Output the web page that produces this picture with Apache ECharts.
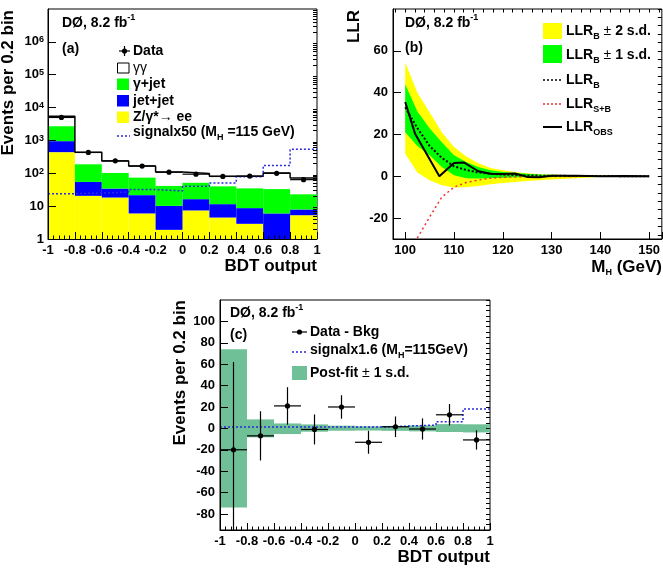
<!DOCTYPE html>
<html>
<head>
<meta charset="utf-8">
<script src="https://cdn.jsdelivr.net/npm/echarts@6/dist/echarts.min.js"></script>
<style>
  html, body { margin: 0; padding: 0; background: #fff; }
  #chart { width: 663px; height: 579px; }
</style>
</head>
<body>
<div id="chart"></div>
<script>
// ---- shared: BDT output bins ----
const bdtEdges = [-1, -0.8, -0.6, -0.4, -0.2, 0, 0.2, 0.4, 0.6, 0.8, 1];

// ---- (a) events per bin, each background on its own (stacked in code) ----
const zee      = [440, 20.6, 18.3, 6.0, 1.9, 7.4, 4.5, 2.9, 0.8, 5.3];
const jetJet   = [510, 34, 16, 15.6, 8.3, 8.9, 7.0, 5.8, 5.2, 2.6];
const gammaJet = [1750, 133, 68, 52, 31, 35, 28.5, 26, 27, 15];
const diPhoton = [2750, 252, 133, 92, 69, 47, 41, 46, 69, 49];
const dataA    = [5000, 430, 240, 166, 108, 94, 80, 82, 100, 64];
const signalX50 = [24, 25, 27, 32, 29, 40, 51, 78, 174, 535];
const logTicks = [1, 10, 100, 1e3, 1e4, 1e5, 1e6];

// ---- (b) LLR vs Higgs mass ----
const massGrid = [100, 102.5, 105, 107.5, 110, 112.5, 115, 117.5, 120, 122.5, 125, 127.5, 130, 135, 140, 145, 150];
const llrB     = [33, 23, 14.5, 8.8, 4.8, 3.0, 1.8, 1.2, 0.8, 0.6, 0.4, 0.3, 0.25, 0.15, 0.1, 0.06, 0.04];
const llrB1Lo  = [21, 14.5, 10, 4.4, 0.5, -0.9, -1.1, -0.9, -0.7, -0.5, -0.4, -0.3, -0.25, -0.15, -0.1, -0.05, -0.03];
const llrB1Hi  = [44, 31, 23, 16.3, 10, 6.8, 4.4, 2.9, 2.1, 1.6, 1.2, 0.9, 0.7, 0.4, 0.25, 0.15, 0.1];
const llrB2Lo  = [10.8, 1.8, -1.9, -4.3, -5.4, -5.2, -4.6, -3.8, -3.2, -2.7, -2.3, -1.9, -1.5, -0.9, -0.4, -0.2, -0.1];
const llrB2Hi  = [54.4, 40, 30.6, 21.1, 14, 9.5, 6.2, 4.0, 2.9, 2.0, 1.4, 1.0, 0.7, 0.45, 0.3, 0.2, 0.1];
const llrSB    = [-40, -29.5, -19.5, -10, -5.2, -3, -1.8, -0.9, -0.5, -0.3, -0.2, -0.1, -0.1, -0.05, -0.03, -0.02, -0.01];
const obsMass  = [100, 102, 107, 110, 112, 115, 117.5, 120, 122.5, 125, 127.5, 130, 135, 140, 145, 150];
const llrObs   = [35.5, 20.5, 0, 6.4, 6.6, 2.4, 1.2, 1.1, 1.3, -0.3, -0.5, 0.2, 0.3, 0, 0.1, 0];
const massTicks = [100, 110, 120, 130, 140, 150];
const llrTicks  = [-20, 0, 20, 40, 60];

// ---- (c) data minus background ----
const dataMinusBkg = [-20, -7, 21, -1, 20, -13, 1.5, -0.6, 12.7, -10.8];
const dataErr      = [82, 23, 17.5, 14, 11, 10.7, 9.6, 9.9, 10, 9];
const postFitLo    = [-74, -8.4, -5.3, -3.1, -2.2, -2.0, -2.3, -2.8, -3.4, -3.8];
const postFitHi    = [74, 8.4, 4.6, 3.7, 2.5, 2.0, 2.3, 2.8, 4.0, 3.8];
const signalX16    = [1.2, 1.2, 1.2, 1.2, 1.2, 1.2, 2.2, 3.1, 6.2, 18.0];
const evtTicks     = [-80, -60, -40, -20, 0, 20, 40, 60, 80, 100];

const FONT = '"Liberation Sans", Arial, Helvetica, sans-serif';
const YELLOW = '#ffff00', GREEN = '#00ff00', BLUE = '#0000ff', TEAL = '#6fbf97';
const SIG = '#2a2ae0', RED = '#ee3030';

const chart = echarts.init(document.getElementById('chart'));

// helpers
const sumArr = (a, b) => a.map((v, i) => v + b[i]);
const bins = (lo, hi) => bdtEdges.slice(0, -1).map((e, i) => [e, bdtEdges[i + 1], lo[i], hi[i]]);
const stepData = vals => bdtEdges.map((e, i) => [e, vals[Math.min(i, vals.length - 1)]]);
const steps = (from, to, d) => { const r = []; for (let v = from; v <= to + 1e-9; v += d) r.push(+v.toFixed(4)); return r; };

const lvl1 = zee;
const lvl2 = sumArr(lvl1, jetJet);
const lvl3 = sumArr(lvl2, gammaJet);
const total = sumArr(lvl3, diPhoton);
const ones = zee.map(() => 1);

function rectRender(color) {
  return (params, api) => {
    const lo = api.value(2), hi = api.value(3);
    if (!(hi > lo)) return {type: 'group', children: []};
    const a = api.coord([api.value(0), hi]);
    const b = api.coord([api.value(1), lo]);
    return {type: 'rect', shape: {x: a[0], y: a[1], width: b[0] - a[0], height: b[1] - a[1]}, style: {fill: color}};
  };
}
function pointRender(params, api) {
  const x0 = api.value(0), x1 = api.value(1), y = api.value(2), e = api.value(3);
  const xc = (x0 + x1) / 2;
  const l = api.coord([x0, y]), r = api.coord([x1, y]), c = api.coord([xc, y]);
  const kids = [{type: 'line', shape: {x1: l[0], y1: l[1], x2: r[0], y2: r[1]}, style: {stroke: '#000', lineWidth: 1.2}}];
  if (e > 0) {
    const t = api.coord([xc, y + e]), b = api.coord([xc, y - e]);
    kids.push({type: 'line', shape: {x1: t[0], y1: t[1], x2: b[0], y2: b[1]}, style: {stroke: '#000', lineWidth: 1.2}});
  }
  kids.push({type: 'circle', shape: {cx: c[0], cy: c[1], r: 2.6}, style: {fill: '#000'}});
  return {type: 'group', children: kids};
}
// band between lo and hi over the mass grid, drawn once as a polygon
function bandRender(lo, hi, color) {
  return (params, api) => {
    if (params.dataIndex !== 0) return {type: 'group', children: []};
    const top = massGrid.map((m, i) => api.coord([m, hi[i]]));
    const bot = massGrid.map((m, i) => api.coord([m, lo[i]])).reverse();
    return {type: 'polygon', shape: {points: top.concat(bot)}, style: {fill: color}};
  };
}

const labelStyle = {color: '#000', fontFamily: FONT, fontWeight: 'bold', fontSize: 13};
const line = {show: true, onZero: false, lineStyle: {color: '#000', width: 1}};
function mainAxis(extra, tickLen) {
  return Object.assign({
    type: 'value', z: 5, axisLine: line, splitLine: {show: false},
    axisTick: {show: true, inside: true, length: tickLen, lineStyle: {color: '#000'}},
    axisLabel: Object.assign({margin: 5}, labelStyle)
  }, extra);
}
function minorAxis(extra, vals, len) {
  return Object.assign({
    type: 'value', z: 5, axisLine: {show: false, onZero: false}, splitLine: {show: false},
    axisLabel: {show: false},
    axisTick: {show: true, inside: true, length: len, customValues: vals, lineStyle: {color: '#000'}}
  }, extra);
}
const supRich = {
  sup: {fontSize: 9, fontWeight: 'bold', fontFamily: FONT, verticalAlign: 'top', lineHeight: 9}
};

const logMinor = [];
logTicks.forEach(d => { for (let k = 2; k <= 9; k++) logMinor.push(d * k); });

// graphic text helpers
const rich = {
  sup: {fontSize: 9, fontWeight: 'bold', fontFamily: FONT, verticalAlign: 'top', lineHeight: 9},
  sub: {fontSize: 9, fontWeight: 'bold', fontFamily: FONT, verticalAlign: 'bottom', lineHeight: 9},
  n: {fontSize: 14, fontWeight: 'normal', fontFamily: FONT, lineHeight: 20}
};
function txt(x, y, text, size, opt) {
  return {
    type: 'text', x: x, y: y, z: 20,
    style: Object.assign({
      text: text, fill: '#000', font: 'bold ' + size + 'px ' + FONT, lineHeight: 20,
      align: 'left', textAlign: 'left', verticalAlign: 'middle', textVerticalAlign: 'middle', rich: rich
    }, opt || {})
  };
}
function vtitle(x, y, text) {
  return {type: 'text', x: x, y: y, rotation: Math.PI / 2, z: 20,
    style: {text: text, fill: '#000', font: 'bold 17px ' + FONT, align: 'right', textAlign: 'right',
      verticalAlign: 'middle', textVerticalAlign: 'middle'}};
}
const box = (x, y, w, h, fill, stroke) => ({type: 'rect', z: 20, shape: {x, y, width: w, height: h}, style: {fill, stroke: stroke || null, lineWidth: 1}});
const seg = (x1, y1, x2, y2, stroke, dash, w) => ({type: 'line', z: 20, shape: {x1, y1, x2, y2}, style: {stroke, lineWidth: w || 1.5, lineDash: dash || null}});
const dot = (cx, cy) => ({type: 'circle', z: 20, shape: {cx, cy, r: 2.6}, style: {fill: '#000'}});

const graphic = [
  // (a)
  txt(62, 23, 'DØ, 8.2 fb{sup|-1}', 14), txt(62, 49, '(a)', 14),
  seg(119, 51, 130, 51, '#000', null, 1.2), seg(124.5, 46, 124.5, 56, '#000', null, 1.2), dot(124.5, 51),
  txt(133, 51, 'Data', 14),
  box(117.5, 63, 11.5, 10, '#fff', '#000'), txt(133, 68, '{n|γγ}', 14),
  box(117, 78.5, 12, 11.5, GREEN), txt(133, 84, 'γ+jet', 14),
  box(117, 95, 12, 11.5, BLUE), txt(133, 101, 'jet+jet', 14),
  box(117, 111.5, 12, 11.5, YELLOW), txt(133, 117, 'Z/γ*→ ee', 14),
  seg(117, 136, 130, 136, SIG, [2, 2]), txt(133, 132, 'signalx50 (M{sub|H} =115 GeV)', 14),
  vtitle(8, 10, 'Events per 0.2 bin'),
  txt(317, 266, 'BDT output', 17, {align: 'right', textAlign: 'right'}),
  // (b)
  txt(405, 23, 'DØ, 8.2 fb{sup|-1}', 14), txt(405, 48, '(b)', 14),
  box(543, 23, 19, 16, YELLOW), txt(566, 31, 'LLR{sub|B} {n|±} 2 s.d.', 14),
  box(543, 45, 19, 18, GREEN), txt(566, 55, 'LLR{sub|B} {n|±} 1 s.d.', 14),
  seg(543, 80, 562, 80, '#000', [2, 2]), txt(566, 80, 'LLR{sub|B}', 14),
  seg(543, 104, 562, 104, RED, [2, 2]), txt(566, 104, 'LLR{sub|S+B}', 14),
  seg(543, 127, 562, 127, '#000', null, 2), txt(566, 127, 'LLR{sub|OBS}', 14),
  vtitle(354, 10, 'LLR'),
  txt(662, 267, 'M{sub|H} (GeV)', 17, {align: 'right', textAlign: 'right'}),
  // (c)
  txt(230, 313, 'DØ, 8.2 fb{sup|-1}', 14), txt(230, 335, '(c)', 14),
  seg(292, 332, 307, 332, '#000', null, 1.2), dot(299.5, 332), txt(310, 332, 'Data - Bkg', 14),
  seg(292, 352, 307, 352, SIG, [2, 2]), txt(310, 350, 'signalx1.6 (M{sub|H}=115GeV)', 14),
  box(292, 366, 15, 14, TEAL), txt(310, 373, 'Post-fit {n|±} 1 s.d.', 14),
  vtitle(180, 300, 'Events per 0.2 bin'),
  txt(490, 557, 'BDT output', 17, {align: 'right', textAlign: 'right'})
];

const gridBox = {show: true, borderColor: '#000', borderWidth: 1, backgroundColor: 'transparent'};

chart.setOption({
  animation: false,
  backgroundColor: '#fff',
  textStyle: {fontFamily: FONT},
  grid: [
    Object.assign({left: 48, top: 9, width: 269, height: 230}, gridBox),
    Object.assign({left: 393, top: 9, width: 269, height: 230}, gridBox),
    Object.assign({left: 220, top: 300, width: 270, height: 230}, gridBox)
  ],
  xAxis: [
    mainAxis({gridIndex: 0, min: -1, max: 1, interval: 0.2,
      minorTick: {show: true, splitNumber: 5, length: 3.5, lineStyle: {color: '#000'}}}, 7),
    mainAxis({gridIndex: 1, min: 97.5, max: 152.6,
      axisLabel: Object.assign({margin: 5, customValues: massTicks}, labelStyle)}, 7),
    minorAxis({gridIndex: 1, min: 97.5, max: 152.6}, steps(98, 152, 2), 3.5),
    mainAxis({gridIndex: 2, min: -1, max: 1, interval: 0.2,
      minorTick: {show: true, splitNumber: 5, length: 3.5, lineStyle: {color: '#000'}}}, 7)
  ],
  yAxis: [
    mainAxis({gridIndex: 0, type: 'log', logBase: 10, min: 1, max: 1e7,
      axisLabel: Object.assign({margin: 4, customValues: logTicks, rich: supRich,
        formatter: v => v < 100 ? String(Math.round(v)) : '10{sup|' + Math.round(Math.log10(v)) + '}'}, labelStyle)}, 8),
    minorAxis({gridIndex: 0, type: 'log', logBase: 10, min: 1, max: 1e7}, logMinor, 4),
    mainAxis({gridIndex: 1, min: -30, max: 80,
      axisLabel: Object.assign({margin: 5, customValues: llrTicks}, labelStyle)}, 8),
    minorAxis({gridIndex: 1, min: -30, max: 80}, steps(-28, 80, 4), 4),
    mainAxis({gridIndex: 2, min: -95, max: 120,
      axisLabel: Object.assign({margin: 5, customValues: evtTicks}, labelStyle)}, 8),
    minorAxis({gridIndex: 2, min: -95, max: 120}, steps(-95, 120, 5), 4)
  ].map(a => {
    // main axes: ticks at the label values only
    if (a.axisLabel && a.axisLabel.customValues) a.axisTick.customValues = a.axisLabel.customValues;
    return a;
  }),
  graphic: graphic,
  series: [
    // ---- (a)
    {type: 'custom', xAxisIndex: 0, yAxisIndex: 0, clip: true, encode: {x: [0, 1], y: [2, 3]},
      renderItem: rectRender(YELLOW), data: bins(ones, lvl1)},
    {type: 'custom', xAxisIndex: 0, yAxisIndex: 0, clip: true, encode: {x: [0, 1], y: [2, 3]},
      renderItem: rectRender(BLUE), data: bins(lvl1, lvl2)},
    {type: 'custom', xAxisIndex: 0, yAxisIndex: 0, clip: true, encode: {x: [0, 1], y: [2, 3]},
      renderItem: rectRender(GREEN), data: bins(lvl2, lvl3)},
    {type: 'line', xAxisIndex: 0, yAxisIndex: 0, step: 'end', symbol: 'none',
      lineStyle: {color: '#000', width: 1.5}, data: stepData(total)},
    {type: 'line', xAxisIndex: 0, yAxisIndex: 0, step: 'end', symbol: 'none',
      lineStyle: {color: SIG, width: 1.5, type: [2, 2]}, data: stepData(signalX50)},
    {type: 'custom', xAxisIndex: 0, yAxisIndex: 0, clip: true, encode: {x: [0, 1], y: 2}, z: 4,
      renderItem: pointRender, data: bins(dataA, dataA.map(() => 0))},
    // ---- (b)
    {type: 'custom', xAxisIndex: 1, yAxisIndex: 2, clip: true, encode: {x: 0, y: [1, 2]},
      renderItem: bandRender(llrB2Lo, llrB2Hi, YELLOW), data: massGrid.map((m, i) => [m, llrB2Lo[i], llrB2Hi[i]])},
    {type: 'custom', xAxisIndex: 1, yAxisIndex: 2, clip: true, encode: {x: 0, y: [1, 2]},
      renderItem: bandRender(llrB1Lo, llrB1Hi, GREEN), data: massGrid.map((m, i) => [m, llrB1Lo[i], llrB1Hi[i]])},
    {type: 'line', xAxisIndex: 1, yAxisIndex: 2, symbol: 'none', z: 3,
      lineStyle: {color: '#000', width: 2, type: [2, 2]}, data: massGrid.map((m, i) => [m, llrB[i]])},
    {type: 'line', xAxisIndex: 1, yAxisIndex: 2, symbol: 'none', z: 3,
      lineStyle: {color: RED, width: 1.5, type: [2, 3]}, data: massGrid.map((m, i) => [m, llrSB[i]])},
    {type: 'line', xAxisIndex: 1, yAxisIndex: 2, symbol: 'none', z: 4,
      lineStyle: {color: '#000', width: 2}, data: obsMass.map((m, i) => [m, llrObs[i]])},
    // ---- (c)
    {type: 'custom', xAxisIndex: 3, yAxisIndex: 4, clip: true, encode: {x: [0, 1], y: [2, 3]},
      renderItem: rectRender(TEAL), data: bins(postFitLo, postFitHi)},
    {type: 'line', xAxisIndex: 3, yAxisIndex: 4, step: 'end', symbol: 'none', z: 3,
      lineStyle: {color: SIG, width: 1.5, type: [2, 2]}, data: stepData(signalX16)},
    {type: 'custom', xAxisIndex: 3, yAxisIndex: 4, clip: true, encode: {x: [0, 1], y: 2}, z: 4,
      renderItem: pointRender, data: bins(dataMinusBkg, dataErr)}
  ]
});
</script>
</body>
</html>
